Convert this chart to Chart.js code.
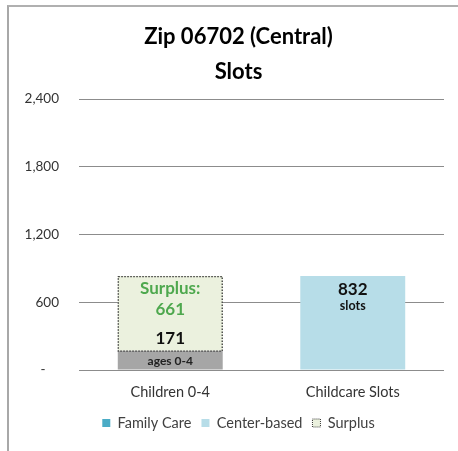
<!DOCTYPE html>
<html>
<head>
<meta charset="utf-8">
<script src="https://cdn.jsdelivr.net/npm/chart.js@4.4.0/dist/chart.umd.min.js"></script>
<style>
  html, body { margin: 0; padding: 0; background: #fff; }
  body { width: 458px; height: 451px; position: relative; overflow: hidden; }
  #frame { position: absolute; left: 7px; top: 5px; width: 451px; height: 446px;
           border-top: 2px solid #b0b0b0; border-left: 2px solid #a8a8a8; box-sizing: border-box; }
  #wrap { position: absolute; left: 9px; top: 7px; width: 449px; height: 444px; }
</style>
</head>
<body>
<div id="frame"></div>
<div id="wrap"><canvas id="c"></canvas></div>
<script>
const categories = ['Children 0-4', 'Childcare Slots'];
const familyCare = [null, 0];
const centerBased = [null, 832];
const children = [171, null];
const surplus = [661, null];
const yTicks = [0, 600, 1200, 1800, 2400];

const FONT = 'Lato, "Open Sans", sans-serif';

const labelPlugin = {
  id: 'barLabels',
  afterDatasetsDraw(chart) {
    const ctx = chart.ctx;
    ctx.save();
    ctx.textAlign = 'center';
    ctx.textBaseline = 'middle';
    const sBar = chart.getDatasetMeta(3).data[0];
    if (sBar) {
      const p = sBar.getProps(['x', 'y', 'base', 'width'], true);
      ctx.setLineDash([1.5, 1.5]);
      ctx.strokeStyle = '#3a3a3a';
      ctx.lineWidth = 1.3;
      ctx.strokeRect(p.x - p.width / 2 + 0.5, p.y + 0.5, p.width - 1, p.base - p.y);
      ctx.setLineDash([]);
      ctx.fillStyle = '#4ea84e';
      ctx.font = 'bold 17px ' + FONT;
      ctx.fillText('Surplus:', p.x, p.y + 12);
      ctx.fillText(String(surplus[0]), p.x, p.y + 33);
    }
    const cBar = chart.getDatasetMeta(2).data[0];
    if (cBar) {
      const p = cBar.getProps(['x', 'y', 'base', 'width'], true);
      ctx.fillStyle = '#111';
      ctx.font = 'bold 17px ' + FONT;
      ctx.fillText(String(children[0]), p.x, p.y - 12);
      ctx.font = 'bold 12px ' + FONT;
      ctx.fillStyle = '#222';
      ctx.fillText('ages 0-4', p.x, (p.y + p.base) / 2 + 1);
    }
    const bBar = chart.getDatasetMeta(1).data[1];
    if (bBar) {
      const p = bBar.getProps(['x', 'y', 'base', 'width'], true);
      ctx.fillStyle = '#111';
      ctx.font = 'bold 17px ' + FONT;
      ctx.fillText(String(centerBased[1]), p.x, p.y + 13);
      ctx.font = 'bold 12.5px ' + FONT;
      ctx.fillText('slots', p.x, p.y + 30);
    }
    ctx.restore();
  }
};

new Chart(document.getElementById('c'), {
  type: 'bar',
  data: {
    labels: categories,
    datasets: [
      { label: 'Family Care', data: familyCare, backgroundColor: '#4bacc6' },
      { label: 'Center-based', data: centerBased, backgroundColor: '#b7dde8' },
      { label: 'Children', data: children, backgroundColor: '#a6a6a6' },
      { label: 'Surplus', data: surplus, backgroundColor: '#ebf1de' }
    ]
  },
  options: {
    responsive: true,
    maintainAspectRatio: false,
    animation: false,
    layout: { padding: { left: 10, right: 0, top: 0, bottom: 10.75 } },
    datasets: { bar: { categoryPercentage: 1, barPercentage: 0.575, borderWidth: 0 } },
    scales: {
      x: {
        stacked: true,
        grid: { display: false, drawTicks: false },
        border: { display: false },
        afterFit(scale) { scale.height = 35.75; },
        ticks: { color: '#333', font: { family: FONT, size: 14.5 }, padding: 14 }
      },
      y: {
        stacked: true,
        min: 0, max: 2400,
        afterBuildTicks(scale) { scale.ticks = yTicks.map(v => ({ value: v })); },
        afterFit(scale) { scale.width = 60; },
        grid: { color: '#8c8c8c', lineWidth: 1, drawTicks: false },
        border: { display: false },
        ticks: {
          color: '#333', padding: 20,
          font: { family: FONT, size: 13.5 },
          callback: v => v === 0 ? '-\u2002\u2002' : v.toLocaleString('en-US')
        }
      },
      yRight: {
        position: 'right',
        display: true,
        grid: { display: false, drawTicks: false },
        border: { display: false },
        ticks: { display: false },
        afterFit(scale) { scale.width = 14; }
      }
    },
    plugins: {
      title: {
        display: true,
        text: ['Zip 06702 (Central)', 'Slots'],
        color: '#000',
        font: { family: FONT, size: 22, weight: 'bold', lineHeight: 1.6 },
        padding: { top: 12.4, bottom: 9.2 }
      },
      legend: {
        position: 'bottom',
        labels: {
          color: '#404040',
          font: { family: FONT, size: 14.5 },
          boxWidth: 8, boxHeight: 8, padding: 10,
          generateLabels(chart) {
            return chart.data.datasets.map((ds, i) => ({
              text: ds.label,
              datasetIndex: i,
              fillStyle: ds.backgroundColor,
              strokeStyle: ds.label === 'Surplus' ? '#3a3a3a' : ds.backgroundColor,
              lineWidth: ds.label === 'Surplus' ? 1 : 0,
              lineDash: ds.label === 'Surplus' ? [1, 1] : [],
              fontColor: '#404040',
              hidden: false
            })).filter(it => it.text !== 'Children');
          }
        }
      },
      tooltip: { enabled: false }
    }
  },
  plugins: [labelPlugin]
});
</script>
</body>
</html>
